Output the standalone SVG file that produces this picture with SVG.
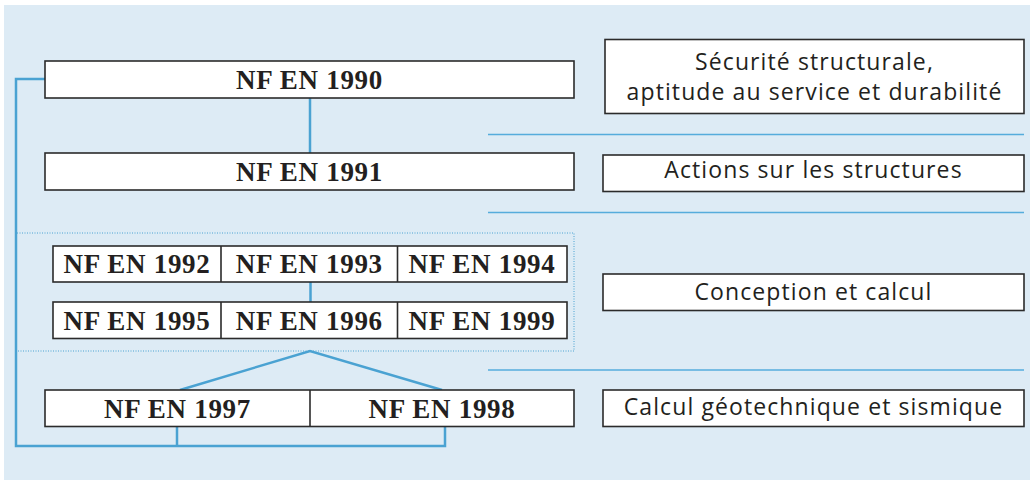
<svg xmlns="http://www.w3.org/2000/svg" width="1030" height="480" viewBox="0 0 1030 480">
<style>
.box{fill:#ffffff;stroke:#2b2b2b;stroke-width:1.6}
.code{font-family:"Liberation Serif",serif;font-weight:bold;font-size:27px;letter-spacing:0.7px;fill:#231f20;text-anchor:middle}
.desc{font-family:"Open Sans",Lato,sans-serif;font-size:23px;letter-spacing:1.1px;fill:#231f20;text-anchor:middle}
.conn{fill:none;stroke:#4aa2d2;stroke-width:2.5}
.sep{fill:none;stroke:#55acdc;stroke-width:1.6}
.dot{fill:none;stroke:#4aa2d2;stroke-width:1;stroke-dasharray:1 1.5}
</style>
<rect x="4" y="5" width="1026" height="475" fill="#ddebf5"/>
<g id="connectors">
<path class="conn" d="M45 79 H16 V446 H445 V427"/>
<path class="conn" d="M177 446 V427"/>
<path class="conn" d="M310 98 V153"/>
<path class="conn" d="M310.5 282 V302"/>
<path class="conn" d="M180 390 L310 351 L442 390"/>
<path class="dot" d="M17 233 H574 V351 H17"/>
<path class="sep" d="M488 134.5 H1024"/>
<path class="sep" d="M488 212.5 H1024"/>
<path class="sep" d="M488 370 H1024"/>
</g>
<g id="nf1990">
<rect class="box" x="45" y="61" width="529" height="37"/>
<text class="code" x="309.5" y="89">NF EN 1990</text>
</g>
<g id="nf1991">
<rect class="box" x="45" y="153" width="529" height="37"/>
<text class="code" x="309.5" y="181">NF EN 1991</text>
</g>
<g id="grid">
<rect class="box" x="53" y="246" width="514" height="36"/>
<rect class="box" x="53" y="302" width="514" height="36.5"/>
<path class="box" d="M221 246 V282 M397.5 246 V282 M221 302 V338.5 M397.5 302 V338.5"/>
</g>
<g id="nf1992"><text class="code" x="137" y="273">NF EN 1992</text></g>
<g id="nf1993"><text class="code" x="309.3" y="273">NF EN 1993</text></g>
<g id="nf1994"><text class="code" x="482" y="273">NF EN 1994</text></g>
<g id="nf1995"><text class="code" x="137" y="329.5">NF EN 1995</text></g>
<g id="nf1996"><text class="code" x="309.3" y="329.5">NF EN 1996</text></g>
<g id="nf1999"><text class="code" x="482" y="329.5">NF EN 1999</text></g>
<g id="nf1997-1998">
<rect class="box" x="45" y="390" width="529" height="36.5"/>
<path class="box" d="M310 390 V426.5"/>
</g>
<g id="nf1997"><text class="code" x="177.5" y="417.5">NF EN 1997</text></g>
<g id="nf1998"><text class="code" x="442" y="417.5">NF EN 1998</text></g>
<g id="d1">
<rect class="box" x="605" y="39.5" width="419" height="74"/>
<text class="desc" x="814.5" y="69.5">Sécurité structurale,</text>
<text class="desc" x="814.5" y="100">aptitude au service et durabilité</text>
</g>
<g id="d2">
<rect class="box" x="603" y="155" width="421" height="36.5"/>
<text class="desc" x="813.5" y="178">Actions sur les structures</text>
</g>
<g id="d3">
<rect class="box" x="603" y="274" width="421" height="36.5"/>
<text class="desc" x="813.5" y="299.5">Conception et calcul</text>
</g>
<g id="d4">
<rect class="box" x="603" y="390" width="421" height="36.5"/>
<text class="desc" x="813.5" y="415">Calcul géotechnique et sismique</text>
</g>
</svg>
